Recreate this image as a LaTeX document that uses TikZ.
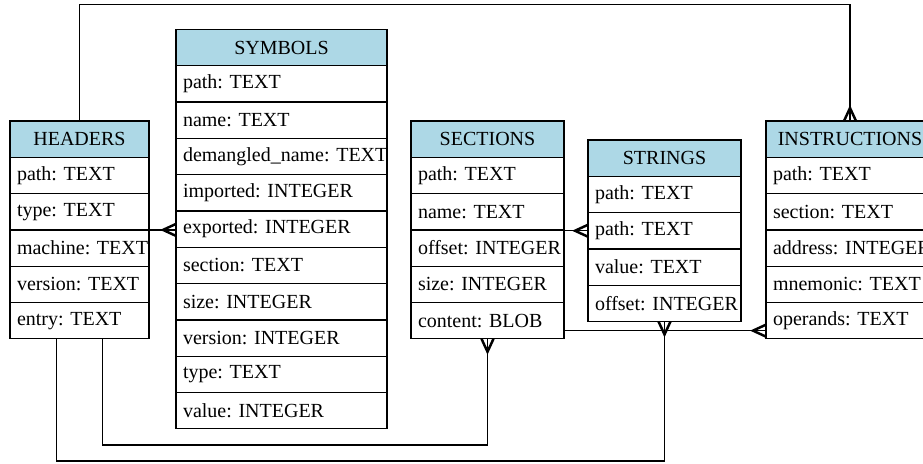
\documentclass[tikz,border=0pt]{standalone}
\usepackage{fontspec}
\setmainfont{Liberation Serif}
\usetikzlibrary{arrows.meta}
\definecolor{hdrblue}{HTML}{ADD8E6}
\frenchspacing
\pgfdeclarearrow{
  name=Crow,
  parameters={\the\pgfarrowlength,\the\pgfarrowwidth},
  setup code={
    \pgfarrowssettipend{0pt}
    \pgfarrowssetlineend{0pt}
    \pgfarrowssetbackend{-\pgfarrowlength}
    \pgfarrowssavethe\pgfarrowlength
    \pgfarrowssavethe\pgfarrowwidth
  },
  drawing code={
    \pgfsetdash{}{0pt}
    \pgfsetlinewidth{1.9\pgflinewidth}
    \pgfsetmiterjoin
    \pgfpathmoveto{\pgfqpoint{0pt}{.5\pgfarrowwidth}}
    \pgfpathlineto{\pgfqpoint{-\pgfarrowlength}{0pt}}
    \pgfpathlineto{\pgfqpoint{0pt}{-.5\pgfarrowwidth}}
    \pgfusepathqstroke
  },
  defaults={length=13pt,width=12pt}
}
\tikzset{
  erfont/.style={font=\fontsize{20}{23}\selectfont\frenchspacing},
  ertitle/.style={draw, fill=hdrblue, line width=1.3pt, minimum height=36.3pt,
    inner sep=0pt, outer sep=0pt, anchor=north west, erfont},
  errow/.style={draw, fill=white, line width=1.3pt, minimum height=36.3pt,
    inner xsep=7pt, inner ysep=0pt, outer sep=0pt, align=left, anchor=north west, erfont},
  link/.style={line width=1.3pt, -Crow}
}
% #1 prefix, #2 left, #3 top, #4 width, #5 title, #6 rows
\newcommand\ertable[6]{%
  \node[ertitle, minimum width=#4pt] (#1-0) at (#2,#3) {#5};
  \pgfmathsetmacro\ertw{#4-14}%
  \foreach \t [count=\i] in {#6} {
    \pgfmathtruncatemacro\j{\i-1}
    \node[errow, text width=\ertw pt] (#1-\i) at (#1-\j.south west) {\mbox{\t}\hfill};
  }%
}
\begin{document}
\begin{tikzpicture}[x=1pt,y=-1pt]
\useasboundingbox (0,0) rectangle (923,463);
\clip (0,0) rectangle (923,463);
\ertable{H}{10}{121}{139}{HEADERS}{path: TEXT,type: TEXT,machine: TEXT,version: TEXT,entry: TEXT}
\ertable{S}{176}{29.5}{211}{SYMBOLS}{path: TEXT,name: TEXT,demangled\_name: TEXT,imported: INTEGER,exported: INTEGER,section: TEXT,size: INTEGER,version: INTEGER,type: TEXT,value: INTEGER}
\ertable{C}{411}{121}{153}{SECTIONS}{path: TEXT,name: TEXT,offset: INTEGER,size: INTEGER,content: BLOB}
\ertable{R}{588}{140}{153}{STRINGS}{path: TEXT,path: TEXT,value: TEXT,offset: INTEGER}
\ertable{I}{766}{121}{168}{INSTRUCTIONS}{path: TEXT,section: TEXT,address: INTEGER,mnemonic: TEXT,operands: TEXT}
\coordinate (top) at (0,4.5);
\coordinate (low1) at (0,445);
\coordinate (low2) at (0,461);
% headers -> instructions
\draw[link] (H-0.north) -- (H-0.north |- top) -| (I-0.north);
% symbols.exported -> headers
\draw[link] (H-3.north east) -- (H-3.north east -| S-5.west);
% strings.path -> sections
\draw[link] (C-2.east |- R-2.west) -- (R-2.west);
% instructions.operands -> sections.content
\draw[link] ([yshift=-10pt]C-5.east) -- ([yshift=-10pt]C-5.east -| I-5.west);
% headers -> sections
\draw[link] ([xshift=23pt]H-5.south) -- ([xshift=23pt]H-5.south |- low1) -| (C-5.south);
% headers -> strings
\draw[link] ([xshift=-23pt]H-5.south) -- ([xshift=-23pt]H-5.south |- low2) -| (R-4.south);
\end{tikzpicture}
\end{document}
